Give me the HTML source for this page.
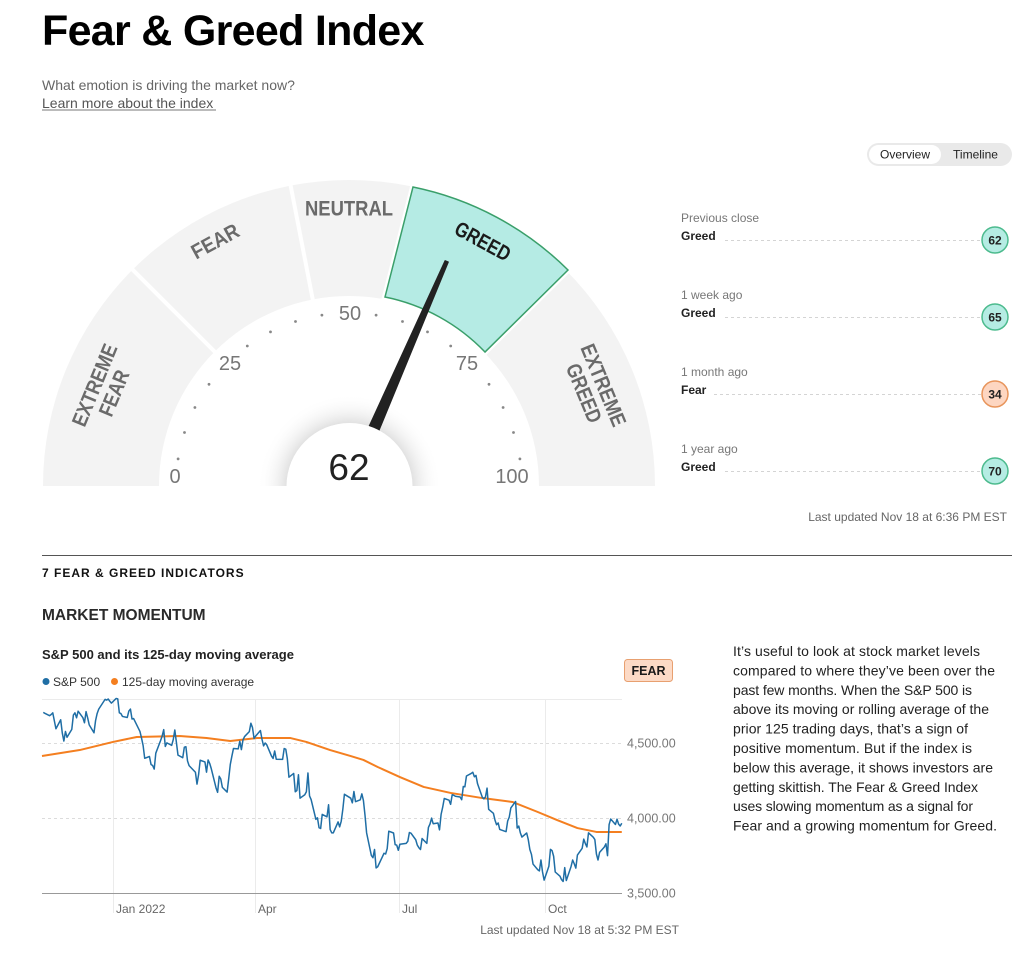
<!DOCTYPE html>
<html><head><meta charset="utf-8">
<style>
html,body{margin:0;padding:0;background:#fff;}
svg{display:block;}
text{font-family:"Liberation Sans",Arial,sans-serif;}
.lbl{font-family:"Liberation Sans Narrow","Liberation Sans",sans-serif;font-weight:bold;font-size:21px;fill:#6a6a6a;}
</style></head>
<body>
<svg width="1024" height="966" viewBox="0 0 1024 966" xmlns="http://www.w3.org/2000/svg">
<defs>
<radialGradient id="sh" cx="349.5" cy="486" r="92" gradientUnits="userSpaceOnUse">
<stop offset="0" stop-color="#d6d6d6" stop-opacity="1"/>
<stop offset="0.66" stop-color="#d9d9d9" stop-opacity="0.9"/>
<stop offset="0.8" stop-color="#ececec" stop-opacity="0.6"/>
<stop offset="1" stop-color="#ffffff" stop-opacity="0"/>
</radialGradient>
<clipPath id="gclip"><rect x="0" y="0" width="700" height="486"/></clipPath>
</defs>

<!-- Header -->
<text x="42" y="45" font-size="43" font-weight="bold" fill="#000" letter-spacing="-0.7">Fear &amp; Greed Index</text>
<text x="42" y="90" font-size="14" fill="#666">What emotion is driving the market now?</text>
<text x="42" y="108" font-size="14" fill="#555">Learn more about the index</text>
<line x1="42" y1="110" x2="216" y2="110" stroke="#777" stroke-width="1"/>

<!-- Gauge -->
<g clip-path="url(#gclip)">
<path d="M 43 486 A 306 306 0 0 1 655 486 L 539 486 A 190 190 0 0 0 159 486 Z" fill="#f3f3f3"/>
<g stroke="#fff" stroke-width="4">
<line x1="218.2" y1="355.2" x2="128.4" y2="265.4"/>
<line x1="313.7" y1="304.4" x2="289.5" y2="179.7"/>
</g>
<path d="M 385 297 L 413 187 A 307 307 0 0 1 568 270 L 485 352 A 191 191 0 0 0 385 297 Z" fill="#fff" stroke="#fff" stroke-width="6"/>
<path d="M 385 297 L 413 187 A 307 307 0 0 1 568 270 L 485 352 A 191 191 0 0 0 385 297 Z" fill="#b5ebe4" stroke="#3a9f6a" stroke-width="1.5"/>

<g class="lbl">
<g transform="translate(104,389) rotate(-67.5)">
<text x="0" y="-3" text-anchor="middle" textLength="87" lengthAdjust="spacingAndGlyphs">EXTREME</text>
<text x="0" y="18" text-anchor="middle" textLength="48" lengthAdjust="spacingAndGlyphs">FEAR</text>
</g>
<g transform="translate(215,241) rotate(-28.5)">
<text x="0" y="7.5" text-anchor="middle" textLength="51" lengthAdjust="spacingAndGlyphs">FEAR</text>
</g>
<g transform="translate(349,208)">
<text x="0" y="7.5" text-anchor="middle" textLength="88" lengthAdjust="spacingAndGlyphs">NEUTRAL</text>
</g>
<g transform="translate(483,241) rotate(28.5)">
<text x="0" y="7.5" text-anchor="middle" textLength="60" lengthAdjust="spacingAndGlyphs" fill="#1a1a1a">GREED</text>
</g>
<g transform="translate(594,389) rotate(67.5)">
<text x="0" y="-3" text-anchor="middle" textLength="87" lengthAdjust="spacingAndGlyphs">EXTREME</text>
<text x="0" y="18" text-anchor="middle" textLength="62" lengthAdjust="spacingAndGlyphs">GREED</text>
</g>
</g>

<g fill="#888">
<circle cx="178.1" cy="458.9" r="1.4"/><circle cx="184.5" cy="432.5" r="1.4"/>
<circle cx="194.9" cy="407.5" r="1.4"/><circle cx="209.0" cy="384.3" r="1.4"/>
<circle cx="247.3" cy="346.0" r="1.4"/><circle cx="270.5" cy="331.9" r="1.4"/>
<circle cx="295.5" cy="321.5" r="1.4"/><circle cx="321.9" cy="315.1" r="1.4"/>
<circle cx="376.1" cy="315.1" r="1.4"/><circle cx="402.5" cy="321.5" r="1.4"/>
<circle cx="427.5" cy="331.9" r="1.4"/><circle cx="450.7" cy="346.0" r="1.4"/>
<circle cx="489.0" cy="384.3" r="1.4"/><circle cx="503.1" cy="407.5" r="1.4"/>
<circle cx="513.5" cy="432.5" r="1.4"/><circle cx="519.9" cy="458.9" r="1.4"/>
</g>
<g font-size="20" fill="#777" text-anchor="middle">
<text x="175" y="483">0</text>
<text x="230" y="370">25</text>
<text x="350" y="320">50</text>
<text x="467" y="370">75</text>
<text x="512" y="483">100</text>
</g>

<circle cx="349.5" cy="486" r="92" fill="url(#sh)"/>
<polygon points="367.9,428.8 377.9,433.2 448.35,262.0 445.05,260.6" fill="#222" stroke="#222" stroke-width="1" stroke-linejoin="round"/>
<circle cx="349.5" cy="486" r="63" fill="#fff"/>
<text x="349" y="480" font-size="37" fill="#222" text-anchor="middle">62</text>
</g>

<!-- Toggle -->
<rect x="867" y="143" width="145" height="23" rx="11.5" fill="#e9e9e9"/>
<rect x="869" y="145" width="72" height="19" rx="9.5" fill="#fff"/>
<text x="905" y="158.5" font-size="12" fill="#222" text-anchor="middle">Overview</text>
<text x="975.5" y="158.5" font-size="12" fill="#222" text-anchor="middle">Timeline</text>

<!-- History list -->
<g font-size="12">
<text x="681" y="222" fill="#777">Previous close</text>
<text x="681" y="240" fill="#222" font-weight="bold">Greed</text>
<line x1="725" y1="240.5" x2="981" y2="240.5" stroke="#d4d4d4" stroke-dasharray="3,3"/>
<circle cx="995" cy="240" r="13" fill="#b5ece3" stroke="#4dbb8e" stroke-width="1.5"/>
<text x="995" y="244.5" fill="#222" font-weight="bold" text-anchor="middle">62</text>

<text x="681" y="299" fill="#777">1 week ago</text>
<text x="681" y="317" fill="#222" font-weight="bold">Greed</text>
<line x1="725" y1="317.5" x2="981" y2="317.5" stroke="#d4d4d4" stroke-dasharray="3,3"/>
<circle cx="995" cy="317" r="13" fill="#b5ece3" stroke="#4dbb8e" stroke-width="1.5"/>
<text x="995" y="321.5" fill="#222" font-weight="bold" text-anchor="middle">65</text>

<text x="681" y="376" fill="#777">1 month ago</text>
<text x="681" y="394" fill="#222" font-weight="bold">Fear</text>
<line x1="714" y1="394.5" x2="981" y2="394.5" stroke="#d4d4d4" stroke-dasharray="3,3"/>
<circle cx="995" cy="394" r="13" fill="#fdd6c1" stroke="#e8955c" stroke-width="1.5"/>
<text x="995" y="398.5" fill="#222" font-weight="bold" text-anchor="middle">34</text>

<text x="681" y="453" fill="#777">1 year ago</text>
<text x="681" y="471" fill="#222" font-weight="bold">Greed</text>
<line x1="725" y1="471.5" x2="981" y2="471.5" stroke="#d4d4d4" stroke-dasharray="3,3"/>
<circle cx="995" cy="471" r="13" fill="#b5ece3" stroke="#4dbb8e" stroke-width="1.5"/>
<text x="995" y="475.5" fill="#222" font-weight="bold" text-anchor="middle">70</text>

<text x="1007" y="521" fill="#666" text-anchor="end">Last updated Nov 18 at 6:36 PM EST</text>
</g>

<!-- Divider & section headers -->
<line x1="42" y1="555.5" x2="1012" y2="555.5" stroke="#555" stroke-width="1"/>
<text x="42" y="577" font-size="12" font-weight="bold" fill="#111" letter-spacing="1">7 FEAR &amp; GREED INDICATORS</text>
<text x="42" y="620" font-size="15.5" font-weight="bold" fill="#2a2a2a">MARKET MOMENTUM</text>
<text x="42" y="659" font-size="13" font-weight="bold" fill="#222">S&amp;P 500 and its 125-day moving average</text>
<circle cx="46" cy="681.5" r="3.5" fill="#1f6ea5"/>
<text x="53" y="686" font-size="12" fill="#333">S&amp;P 500</text>
<circle cx="114.5" cy="681.5" r="3.5" fill="#f47f20"/>
<text x="122" y="686" font-size="12" fill="#333">125-day moving average</text>

<rect x="624.5" y="659.5" width="48" height="22" rx="3" fill="#fcdac6" stroke="#e8a070" stroke-width="1"/>
<text x="648.5" y="675" font-size="12.5" font-weight="bold" fill="#1a1a1a" text-anchor="middle">FEAR</text>

<!-- Chart -->
<g stroke="#ebebeb" stroke-width="1">
<line x1="42" y1="699.5" x2="622" y2="699.5"/>
<line x1="113.5" y1="699" x2="113.5" y2="913"/>
<line x1="255.5" y1="699" x2="255.5" y2="913"/>
<line x1="399.5" y1="699" x2="399.5" y2="913"/>
<line x1="545.5" y1="699" x2="545.5" y2="913"/>
</g>
<g stroke="#dcdcdc" stroke-width="1" stroke-dasharray="3,3">
<line x1="42" y1="743.5" x2="622" y2="743.5"/>
<line x1="42" y1="818.5" x2="622" y2="818.5"/>
</g>
<line x1="42" y1="893.5" x2="622" y2="893.5" stroke="#999" stroke-width="1"/>
<g font-size="12.5" fill="#777">
<text x="627" y="747.5">4,500.00</text>
<text x="627" y="822.5">4,000.00</text>
<text x="627" y="897.5">3,500.00</text>
</g>
<g font-size="12" fill="#666">
<text x="116" y="913">Jan 2022</text>
<text x="258" y="913">Apr</text>
<text x="402" y="913">Jul</text>
<text x="548" y="913">Oct</text>
</g>

<g transform="matrix(1.585 0 0 -0.15 113 1418)">
<polyline vector-effect="non-scaling-stroke" fill="none" stroke="#f47f20" stroke-width="2" stroke-linejoin="round" points="-44.8,4413 -21,4453 0,4507 15,4540 42,4547 59,4533 74,4513 91,4533 112,4533 122,4507 137,4453 150,4413 158,4387 167,4340 181,4273 196,4207 213,4167 233,4133 252,4107 268,4040 280,3987 293,3933 305,3907 321,3907"/>
<polyline vector-effect="non-scaling-stroke" fill="none" stroke="#1f6ea5" stroke-width="1.5" stroke-linejoin="round" points="-44,4704 -43,4698 -40,4682 -39,4690 -38,4701 -36,4595 -33,4655 -32,4567 -31,4513 -30,4577 -29,4538 -26,4591 -25,4686 -24,4701 -23,4668 -22,4712 -19,4669 -18,4635 -17,4709 -16,4668 -15,4621 -12,4568 -11,4649 -10,4697 -9,4726 -5,4791 -4,4786 -3,4793 -2,4778 -1,4766 2,4797 3,4794 4,4701 5,4696 6,4677 9,4670 10,4713 11,4726 12,4660 13,4663 17,4577 18,4533 19,4483 20,4398 23,4410 24,4357 25,4350 26,4326 27,4432 30,4516 31,4546 32,4589 33,4477 34,4501 37,4484 38,4522 39,4587 40,4504 41,4419 44,4402 45,4472 46,4475 47,4381 48,4349 52,4305 53,4226 54,4289 55,4385 58,4374 59,4306 60,4387 61,4364 62,4329 65,4201 66,4171 67,4278 68,4260 69,4204 72,4173 73,4262 74,4357 75,4412 76,4463 79,4461 80,4512 81,4456 82,4520 83,4543 86,4576 87,4632 88,4603 89,4530 90,4546 93,4583 94,4525 95,4481 96,4500 97,4488 100,4413 101,4397 102,4447 103,4392 107,4391 108,4463 109,4459 110,4394 111,4272 114,4297 115,4175 116,4183 117,4288 118,4132 121,4155 122,4175 123,4300 124,4147 125,4123 128,3991 129,4001 130,3935 131,3930 132,4024 135,4008 136,4088 137,3923 138,3901 139,3901 142,3974 143,3941 144,3979 145,4058 146,4158 150,4132 151,4101 152,4177 153,4109 156,4121 157,4161 158,4116 159,4018 160,3901 163,3750 164,3735 165,3790 166,3667 167,3675 171,3765 172,3760 173,3796 174,3912 177,3900 178,3822 179,3819 180,3785 181,3825 185,3831 186,3845 187,3903 188,3899 191,3855 192,3819 193,3802 194,3790 195,3863 198,3831 199,3937 200,3960 201,3999 202,3962 205,3967 206,3921 207,4024 208,4072 209,4130 212,4119 213,4091 214,4155 215,4152 216,4145 219,4140 220,4122 221,4210 222,4208 223,4280 226,4297 227,4305 228,4275 229,4284 230,4228 233,4138 234,4128 235,4141 236,4199 237,4058 240,4031 241,3986 242,3955 243,3967 244,3924 248,3909 249,3980 250,4006 251,4067 254,4110 255,3933 256,3946 257,3901 258,3873 261,3900 262,3856 263,3790 264,3758 265,3693 268,3655 269,3647 270,3720 271,3640 272,3586 275,3678 276,3791 277,3783 278,3745 279,3640 282,3612 283,3589 284,3577 285,3669 286,3583 289,3677 290,3720 291,3695 292,3666 293,3753 296,3798 297,3859 298,3830 299,3807 300,3901 303,3872 304,3856 305,3760 306,3720 307,3771 310,3807 311,3828 312,3749 313,3956 314,3993 317,3957 318,3992 319,3959 320,3947 321,3965"/>
</g>

<text x="679" y="934" font-size="12" fill="#666" text-anchor="end">Last updated Nov 18 at 5:32 PM EST</text>

<!-- Description paragraph -->
<g font-size="14" fill="#222">
<text x="733" y="656" textLength="247" lengthAdjust="spacing">It’s useful to look at stock market levels</text>
<text x="733" y="675.4" textLength="262" lengthAdjust="spacing">compared to where they’ve been over the</text>
<text x="733" y="694.8" textLength="239" lengthAdjust="spacing">past few months. When the S&amp;P 500 is</text>
<text x="733" y="714.2" textLength="256" lengthAdjust="spacing">above its moving or rolling average of the</text>
<text x="733" y="733.6" textLength="235" lengthAdjust="spacing">prior 125 trading days, that’s a sign of</text>
<text x="733" y="753" textLength="239" lengthAdjust="spacing">positive momentum. But if the index is</text>
<text x="733" y="772.4" textLength="260" lengthAdjust="spacing">below this average, it shows investors are</text>
<text x="733" y="791.8" textLength="245" lengthAdjust="spacing">getting skittish. The Fear &amp; Greed Index</text>
<text x="733" y="811.2" textLength="240" lengthAdjust="spacing">uses slowing momentum as a signal for</text>
<text x="733" y="830.6" textLength="264" lengthAdjust="spacing">Fear and a growing momentum for Greed.</text>
</g>
</svg>
</body></html>
